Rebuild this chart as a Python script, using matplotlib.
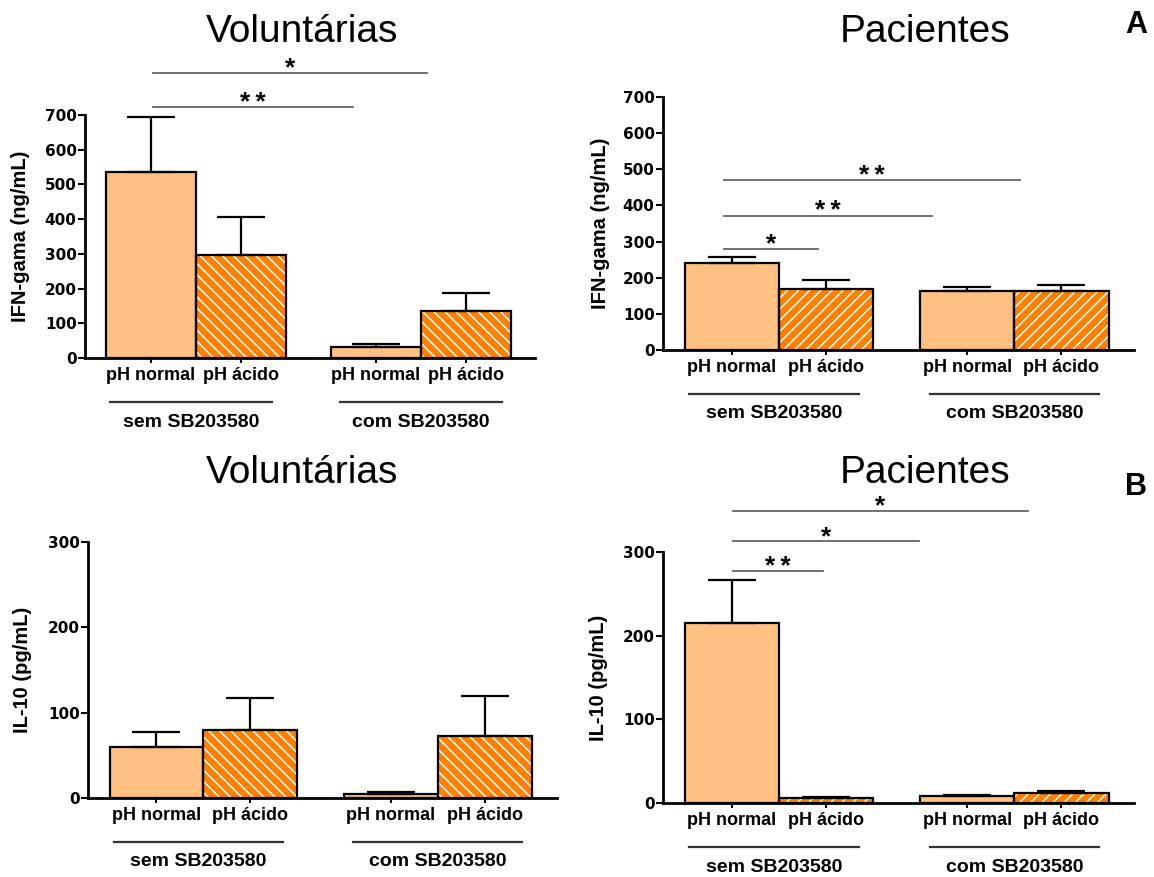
import matplotlib
matplotlib.use("Agg")
from matplotlib import pyplot as plt
import matplotlib.transforms as mtransforms
import numpy as np

plt.rcParams['font.family'] = ['Liberation Sans', 'DejaVu Sans']
plt.rcParams['hatch.linewidth'] = 1.1

# rótulos
bar_labels = ["pH normal", "pH ácido", "pH normal", "pH ácido"]
group_labels = ["sem SB203580", "com SB203580"]

# IFN-gama (ng/mL) - média e erro (só para cima)
ifn_vol = [537, 297, 33, 134]
ifn_vol_err = [156, 108, 8, 53]
ifn_pac = [242, 170, 164, 164]
ifn_pac_err = [14, 23, 11, 17]

# IL-10 (pg/mL)
il10_vol = [60, 80, 5, 73]
il10_vol_err = [17, 37, 2, 47]
il10_pac = [215, 5.6, 8, 12]
il10_pac_err = [52, 1.5, 2, 2]

# significância: (x inicio, x fim, altura, texto)
sig_ifn_vol = [(1.02, 3.25, 723, "**"), (1.02, 4.07, 821, "*")]
sig_ifn_pac = [(0.92, 1.92, 280, "*"), (0.92, 3.13, 372, "**"), (0.92, 4.06, 469, "**")]
sig_il10_vol = []
sig_il10_pac = [(1.01, 1.97, 277, "**"), (1.01, 2.99, 313, "*"), (1.01, 4.14, 349, "*")]

light = "#FFC080"
dark = "#FF8000"
xs = np.array([1, 2, 3.5, 4.5])

W, H = 1154, 877
fig = plt.figure(figsize=(W / 100, H / 100), dpi=100)


def rect(l, r, t, b):
    return [l / W, 1 - b / H, (r - l) / W, (b - t) / H]


def panel(r, means, errs, hatch, ymax, ylabel, ylx, sigs, title, tx, tbase, letter=None, ly=None):
    ax = fig.add_axes(rect(*r))
    means = np.array(means)
    errs = np.array(errs)
    ax.bar(xs[[0, 2]], means[[0, 2]], width=1, color=light, linewidth=0, zorder=2)
    ax.bar(xs[[1, 3]], means[[1, 3]], width=1, color=dark, edgecolor="white",
           hatch=hatch, linewidth=0, zorder=2)
    ax.bar(xs, means, width=1, fill=False, edgecolor="black", linewidth=1.6, zorder=3)
    ax.errorbar(xs, means, yerr=[np.zeros(4), errs], fmt="none", ecolor="black",
                elinewidth=1.6, capsize=17, capthick=1.6, zorder=4)
    ax.set_xlim(0.27, 5.27)
    ax.set_ylim(0, ymax)
    ax.set_yticks(np.arange(0, ymax + 1, 100))
    ax.set_xticks(xs, bar_labels)
    for s in ["top", "right"]:
        ax.spines[s].set_visible(False)
    for s in ["left", "bottom"]:
        ax.spines[s].set_linewidth(2)
    ax.tick_params(axis="x", length=3.6, width=1.5, pad=3, labelsize=13)
    ax.tick_params(axis="y", length=5, width=1.5, pad=1)
    for lab in ax.get_xticklabels():
        lab.set_fontweight("bold")
    for lab in ax.get_yticklabels():
        lab.set_fontfamily("DejaVu Sans")
        lab.set_fontweight("bold")
        lab.set_fontsize(11)

    # linhas de grupo abaixo do eixo
    tline = ax.get_xaxis_transform() + mtransforms.ScaledTranslation(0, -0.44, fig.dpi_scale_trans)
    ttext = ax.get_xaxis_transform() + mtransforms.ScaledTranslation(0, -0.64, fig.dpi_scale_trans)
    for (x0, x1), g in zip([(0.55, 2.35), (3.1, 4.9)], group_labels):
        ax.plot([x0, x1], [0, 0], color="#333333", lw=1.6, transform=tline, clip_on=False)
        ax.text((x0 + x1) / 2, 0, g, transform=ttext, ha="center", va="center",
                fontsize=14, fontweight="bold")

    # barras de significância
    for x0, x1, y, t in sigs:
        ax.plot([x0, x1], [y, y], color="#666666", lw=1.3, clip_on=False)
        ax.annotate("\u2009".join(t), xy=((x0 + x1) / 2, y), xytext=(0, -2),
                    textcoords="offset points", ha="center", va="baseline",
                    fontsize=19, fontweight="bold", annotation_clip=False)

    l, rr, t, b = r
    fig.text(ylx / W, 1 - (t + b) / 2 / H, ylabel, rotation=90, ha="center", va="center",
             fontsize=14.5, fontweight="bold")
    fig.text(tx / W, 1 - tbase / H, title, ha="center", va="baseline", fontsize=28)
    if letter:
        fig.text(1136 / W, 1 - ly / H, letter, ha="center", va="center",
                 fontsize=22, fontweight="bold")
    return ax


panel((85, 535, 115, 358), ifn_vol, ifn_vol_err, "\\\\\\", 700, "IFN-gama (ng/mL)", 21,
      sig_ifn_vol, "Voluntárias", 302, 42)
panel((663, 1134, 97, 350), ifn_pac, ifn_pac_err, "///", 700, "IFN-gama (ng/mL)", 600,
      sig_ifn_pac, "Pacientes", 925, 42, "A", 25)
panel((88, 557, 542, 798), il10_vol, il10_vol_err, "\\\\\\", 300, "IL-10 (pg/mL)", 23,
      sig_il10_vol, "Voluntárias", 302, 483)
panel((663, 1134, 552, 803), il10_pac, il10_pac_err, "///", 300, "IL-10 (pg/mL)", 599,
      sig_il10_pac, "Pacientes", 925, 483, "B", 487)

plt.savefig("out.png", dpi=100)
